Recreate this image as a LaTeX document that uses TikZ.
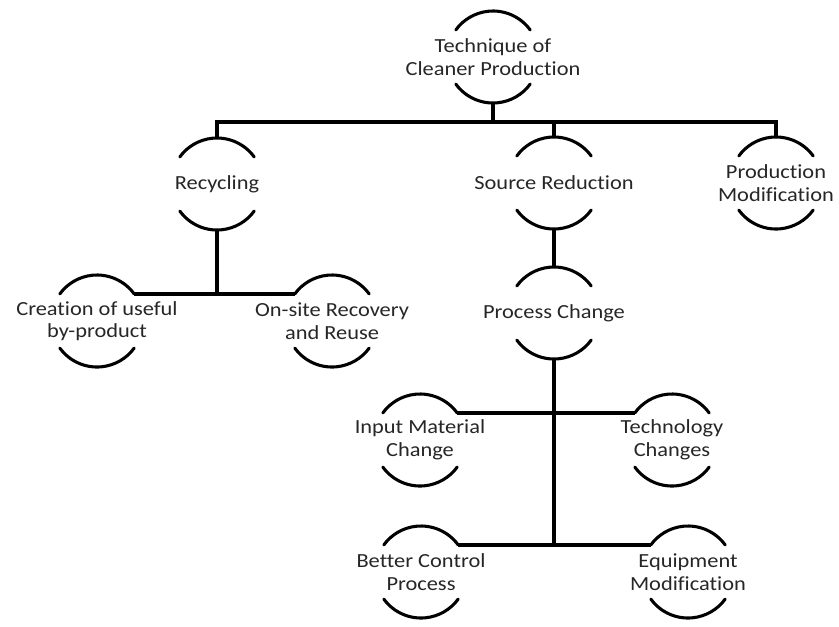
\documentclass[tikz,border=0pt]{standalone}
\usepackage{fontspec}
\setmainfont{Carlito}[FakeStretch=1.12, Ligatures=CommonOff]
\usepackage{tikz}
\usetikzlibrary{calc}
\tikzset{
  lbl/.style={align=center, inner sep=0pt, text=black!85,
              font=\fontsize{15}{17}\selectfont},
  arcl/.style={line width=2.3pt, line cap=round},
  link/.style={line width=3.2pt},
}

\begin{document}
\begin{tikzpicture}[x=0.75pt, y=0.75pt]
  \useasboundingbox (0,0) rectangle (839,-626);

  \node[lbl] (tcp) at (493,-57) {Technique of\\Cleaner Production};
  \node[lbl] (rec) at (217,-184) {Recycling};
  \node[lbl] (srd) at (554,-183) {Source Reduction};
  \node[lbl] (pmd) at (776,-183) {Production\\Modification};
  \node[lbl] (cub) at (97,-321) {Creation of useful\\by-product};
  \node[lbl] (orr) at (332,-321) {On-site Recovery\\and Reuse};
  \node[lbl] (pch) at (554,-313) {Process Change};
  \node[lbl] (imc) at (420,-440) {Input Material\\Change};
  \node[lbl] (tch) at (672,-440) {Technology\\Changes};
  \node[lbl] (bcp) at (421,-572) {Better Control\\Process};
  \node[lbl] (eqm) at (688,-572) {Equipment\\Modification};

  % half circles above and below each label
  \foreach \n in {tcp,rec,srd,pmd,cub,orr,pch,imc,tch,bcp,eqm}
    \draw[arcl] ([shift={(36:46)}]\n.center) arc[start angle=36, end angle=144, radius=46]
                ([shift={(216:46)}]\n.center) arc[start angle=216, end angle=324, radius=46];

  \coordinate (j1) at (493,-122);
  \coordinate (j2) at (217,-294);
  \coordinate (j4) at (554,-545);

  \draw[link] ([shift={(0,-46)}]tcp.center) -- (j1);
  \draw[link] ([shift={(0,46)}]rec.center) |- (j1) -| ([shift={(0,46)}]pmd.center);
  \draw[link] ([shift={(0,46)}]srd.center) -- (srd |- j1);

  \draw[link] ([shift={(0,-46)}]rec.center) -- (j2);
  \draw[link] ([shift={(36:46)}]cub.center) -- ([shift={(144:46)}]orr.center);

  \draw[link] ([shift={(0,-46)}]srd.center) -- ([shift={(0,46)}]pch.center);
  \draw[link] ([shift={(0,-46)}]pch.center) -- (j4);
  \draw[link] ([shift={(36:46)}]imc.center) -- ([shift={(144:46)}]tch.center);
  \draw[link] ([shift={(36:46)}]bcp.center) -- ([shift={(144:46)}]eqm.center);
\end{tikzpicture}
\end{document}
